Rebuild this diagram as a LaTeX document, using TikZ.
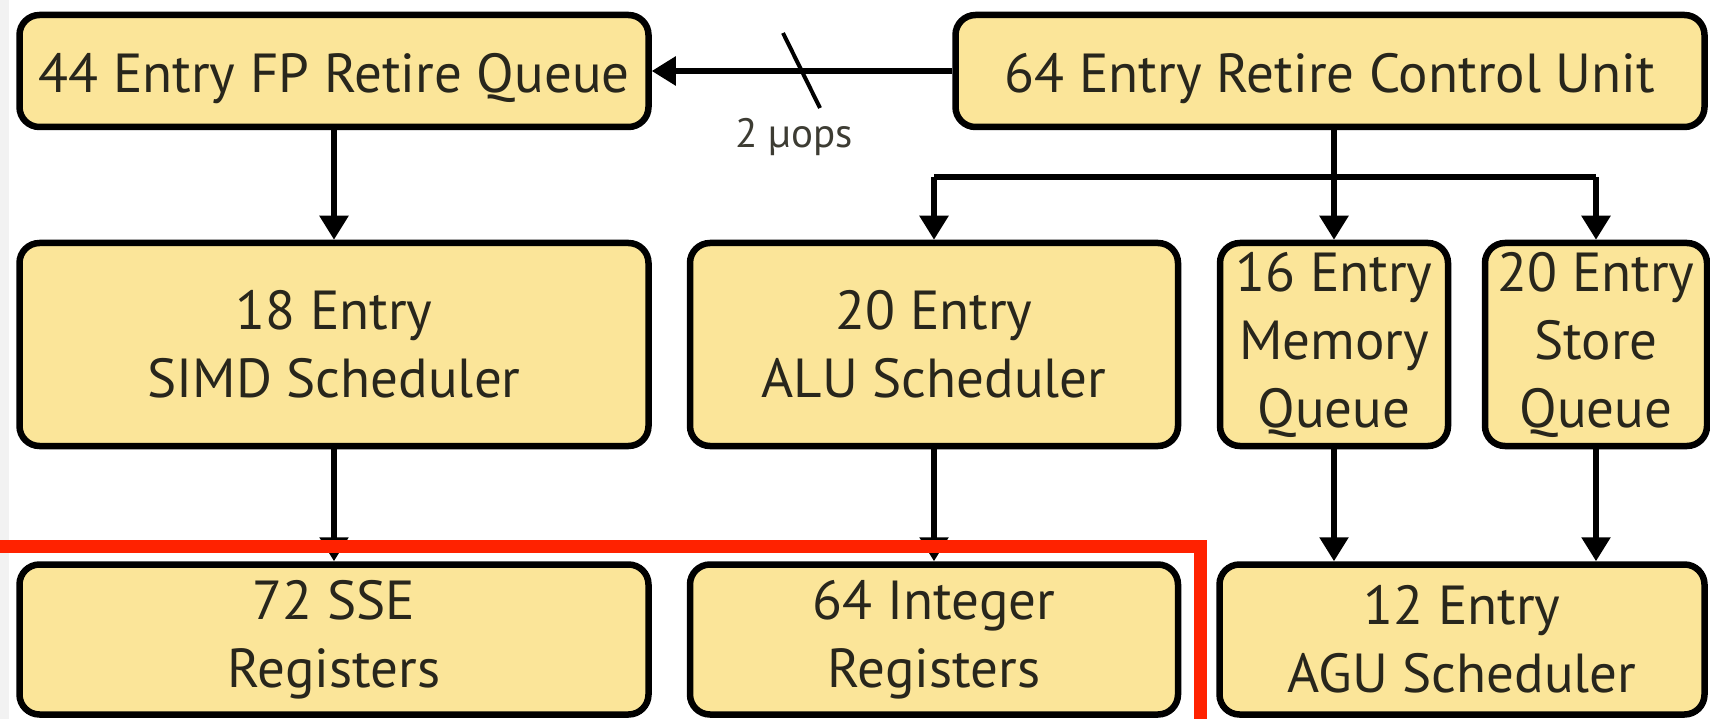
\documentclass[tikz,border=0pt]{standalone}
\usepackage{fontspec}
\setmainfont{PT Sans}
\usetikzlibrary{arrows.meta,calc}
\definecolor{boxfill}{RGB}{251,229,153}
\definecolor{boxtext}{RGB}{40,38,28}
\definecolor{redframe}{RGB}{255,34,0}
\tikzset{
  unit/.style={draw=black, line width=6.5pt, fill=boxfill, rounded corners=20pt,
    text=boxtext, align=center, inner sep=0pt,
    font=\fontsize{55}{68}\selectfont},
  oneline/.style={text height=44pt, text depth=0pt},
  link/.style={line width=5.5pt, draw=black},
  arr/.style={link, -{Triangle[width=28pt,length=24pt]}},
}
\begin{document}
\begin{tikzpicture}[x=1pt,y=-1pt]
\useasboundingbox (0,0) rectangle (1710,719);
\fill[black!5] (0,0) rectangle (9,719);
% top row
\node[unit, oneline, minimum width=629pt, minimum height=112pt] (fpq) at (334,71) {44 Entry FP Retire Queue};
\node[unit, oneline, minimum width=749pt, minimum height=112pt] (rcu) at (1330,71) {64 Entry Retire Control Unit};
% middle row
\node[unit, minimum width=629pt, minimum height=203pt] (simd) at (334,344.5) {18 Entry\\SIMD Scheduler};
\node[unit, minimum width=488pt, minimum height=203pt] (alu) at (934,344.5) {20 Entry\\ALU Scheduler};
\node[unit, minimum width=228pt, minimum height=203pt] (memq) at (1334,344.5) {16 Entry\\Memory\\Queue};
\node[unit, minimum width=222pt, minimum height=203pt] (stq) at (1596,344.5) {20 Entry\\Store\\Queue};
% bottom row
\node[unit, minimum width=629pt, minimum height=150pt] (sse) at (334,639.5) {72 SSE\\Registers};
\node[unit, minimum width=488pt, minimum height=150pt] (intr) at (934,639.5) {64 Integer\\Registers};
\node[unit, minimum width=485pt, minimum height=150pt] (agu) at (1462,639.5) {12 Entry\\AGU Scheduler};
% connectors
\coordinate (bus) at (0,177);
\coordinate (slashA) at (783,33);
\coordinate (slashB) at (820,108);
\draw[arr] (rcu.west) -- (fpq.east);
\draw[link, line width=4pt] (slashA) -- (slashB);
\node[text=boxtext!90, font=\fontsize{41}{48}\selectfont, inner sep=0pt, anchor=base] (uops) at (794,148) {2 µops};
\draw[arr] (fpq.south) -- (simd.north);
\draw[arr] (simd.south) -- (sse.north);
\draw[arr] (rcu.south -| memq.north) -- (memq.north);
\draw[link] (alu.north |- bus) -- (stq.north |- bus);
\draw[arr] (alu.north |- bus) -- (alu.north);
\draw[arr] (stq.north |- bus) -- (stq.north);
\draw[arr] (alu.south) -- (intr.north);
\draw[arr] (memq.south) -- (agu.north -| memq.south);
\draw[arr] (stq.south) -- (agu.north -| stq.south);
% red frame
\draw[redframe, line width=13pt] (0,546.5) -- (1200,546.5) -- (1200,719);
\end{tikzpicture}
\end{document}
